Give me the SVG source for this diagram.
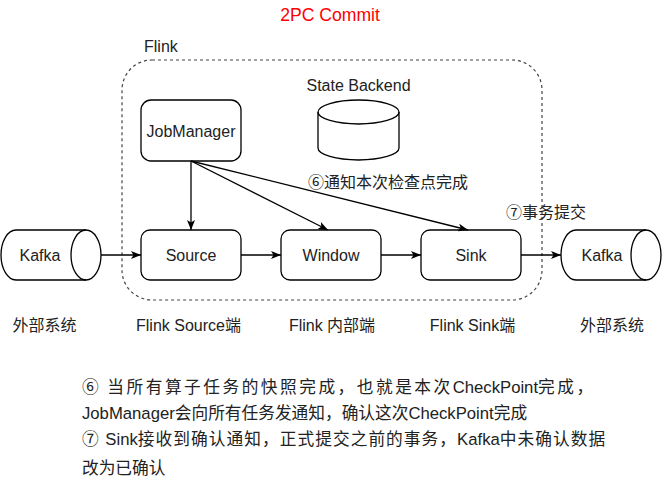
<svg xmlns="http://www.w3.org/2000/svg" width="662" height="496" viewBox="0 0 662 496">
<style>
  text { font-family: "Liberation Sans", "Noto Sans CJK SC", sans-serif; fill: #222; }
  .lbl { font-size: 16px; text-anchor: middle; }
  .box { fill: #fff; stroke: #000; stroke-width: 1.3; }
  .edge { fill: none; stroke: #000; stroke-width: 1.3; marker-end: url(#arr); }
  .para { font-size: 16.7px; }
</style>
<defs>
  <marker id="arr" markerUnits="userSpaceOnUse" markerWidth="10" markerHeight="8" refX="10" refY="4" orient="auto">
    <path d="M0,0 L10,4 L0,8 L2.5,4 Z" fill="#000"/>
  </marker>
</defs>
<rect width="662" height="496" fill="#fff"/>

<text id="title" x="330" y="21" style="font-size:17.6px;fill:#ff0000" text-anchor="middle">2PC Commit</text>

<g id="flink">
  <rect x="122" y="60" width="420" height="240" rx="30" ry="30" fill="none" stroke="#444" stroke-width="1.2" stroke-dasharray="3 3"/>
  <text x="144" y="52" style="font-size:16px">Flink</text>
</g>

<g id="jobmanager">
  <rect class="box" x="141" y="100" width="100" height="61" rx="10" ry="10"/>
  <text class="lbl" x="191" y="136.5">JobManager</text>
</g>

<g id="statebackend">
  <path class="box" d="M318,112 A40.5,12 0 0,1 399,112 L399,148 A40.5,12 0 0,1 318,148 Z"/>
  <path d="M318,112 A40.5,12 0 0,0 399,112" fill="none" stroke="#000" stroke-width="1.3"/>
  <text class="lbl" x="358.5" y="91">State Backend</text>
</g>

<g id="kafka-in">
  <path class="box" d="M16,230 L86,230 A15,25 0 0,1 86,280 L16,280 A15,25 0 0,1 16,230 Z"/>
  <path d="M86,230 A15,25 0 0,0 86,280" fill="none" stroke="#000" stroke-width="1.3"/>
  <text class="lbl" x="40" y="261">Kafka</text>
</g>

<g id="source">
  <rect class="box" x="141" y="230" width="100" height="50" rx="9" ry="9"/>
  <text class="lbl" x="191" y="261">Source</text>
</g>

<g id="window">
  <rect class="box" x="281" y="230" width="100" height="50" rx="9" ry="9"/>
  <text class="lbl" x="331" y="261">Window</text>
</g>

<g id="sink">
  <rect class="box" x="421" y="230" width="100" height="50" rx="9" ry="9"/>
  <text class="lbl" x="471" y="261">Sink</text>
</g>

<g id="kafka-out">
  <path class="box" d="M576,230 L646,230 A15,25 0 0,1 646,280 L576,280 A15,25 0 0,1 576,230 Z"/>
  <path d="M646,230 A15,25 0 0,0 646,280" fill="none" stroke="#000" stroke-width="1.3"/>
  <text class="lbl" x="602" y="261">Kafka</text>
</g>

<g id="connectors">
  <line class="edge" x1="101" y1="255" x2="141" y2="255"/>
  <line class="edge" x1="241" y1="255" x2="281" y2="255"/>
  <line class="edge" x1="381" y1="255" x2="421" y2="255"/>
  <line class="edge" x1="521" y1="255" x2="561" y2="255"/>
  <line class="edge" x1="191" y1="161" x2="191" y2="230"/>
  <line class="edge" x1="191" y1="161" x2="328" y2="230"/>
  <line class="edge" x1="191" y1="161" x2="468" y2="230"/>
  <text x="308" y="188" style="font-size:16px">⑥通知本次检查点完成</text>
  <text x="506" y="218" style="font-size:16px">⑦事务提交</text>
</g>

<g id="layer-labels">
  <text class="lbl" x="44.5" y="331">外部系统</text>
  <text class="lbl" x="188.5" y="331">Flink Source端</text>
  <text class="lbl" x="332" y="331">Flink 内部端</text>
  <text class="lbl" x="472.5" y="331">Flink Sink端</text>
  <text class="lbl" x="612" y="331">外部系统</text>
</g>

<g id="notes">
  <text class="para" x="82" y="393">⑥ <tspan dx="4" letter-spacing="2.5">当所有算子任务的快照完成，也就是本次</tspan>CheckPoint<tspan letter-spacing="2.5">完成，</tspan></text>
  <text class="para" x="82" y="419">JobManager会向所有任务发通知，确认这次CheckPoint完成</text>
  <text class="para" x="82" y="445">⑦ <tspan dx="2">Sink</tspan><tspan letter-spacing="1.05">接收到确认通知，正式提交之前的事务，</tspan>Kafka<tspan letter-spacing="1.05">中未确认数据</tspan></text>
  <text class="para" x="82" y="474">改为已确认</text>
</g>
</svg>
